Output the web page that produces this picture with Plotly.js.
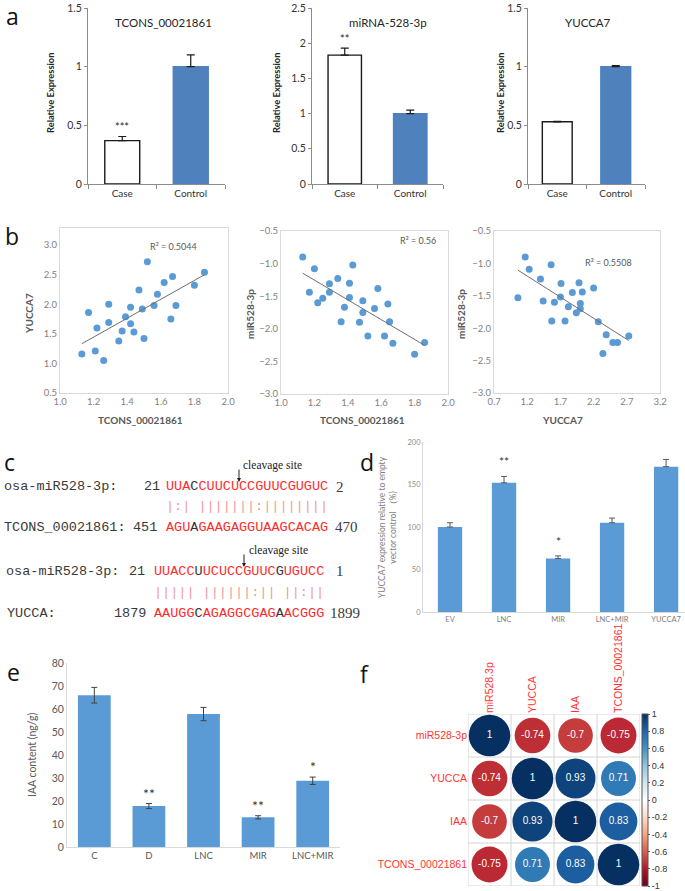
<!DOCTYPE html>
<html>
<head>
<meta charset="utf-8">
<script src="https://cdn.plot.ly/plotly-3.0.1.min.js"></script>
<style>
  html, body { margin: 0; padding: 0; background: #fff; }
  #fig { width: 685px; height: 891px; }
</style>
</head>
<body>
<div id="fig"></div>
<script>
// ---- panel a : relative expression ----
const exprCats = ['Case', 'Control'];
const exprTitles = ['TCONS_00021861', 'miRNA-528-3p', 'YUCCA7'];
const tconsExpr = [0.37, 1.0];
const tconsErr = [0.035, 0.1];
const mirExpr = [1.83, 1.0];
const mirErr = [0.1, 0.05];
const yuccaExpr = [0.53, 1.0];
const yuccaErr = [0.005, 0.01];
const exprStars = [['***', ''], ['**', ''], ['', '']];

// ---- panel b : correlations ----
const tconsB1 = [1.13, 1.17, 1.21, 1.22, 1.26, 1.29, 1.29, 1.35, 1.37, 1.39, 1.42, 1.42, 1.44, 1.47, 1.49, 1.50, 1.52, 1.56, 1.58, 1.62, 1.66, 1.67, 1.69, 1.80, 1.86];
const yuccaB1 = [1.16, 1.86, 1.21, 1.60, 1.05, 2.00, 1.69, 1.38, 1.55, 1.79, 1.95, 1.67, 1.53, 2.24, 1.92, 1.42, 2.72, 1.98, 2.17, 2.37, 1.75, 2.47, 1.98, 2.32, 2.54];
const tconsB2 = [1.13, 1.20, 1.17, 1.22, 1.25, 1.29, 1.29, 1.34, 1.36, 1.38, 1.41, 1.41, 1.43, 1.47, 1.49, 1.49, 1.52, 1.56, 1.58, 1.62, 1.64, 1.65, 1.67, 1.80, 1.86];
const mirB2 = [-0.90, -1.08, -1.44, -1.60, -1.53, -1.31, -1.44, -1.23, -1.89, -1.67, -1.30, -1.52, -1.02, -1.90, -1.75, -1.57, -2.11, -1.69, -1.38, -2.11, -1.62, -1.89, -2.22, -2.39, -2.21];
const yuccaB3 = [1.06, 1.17, 1.23, 1.40, 1.44, 1.56, 1.57, 1.61, 1.71, 1.70, 1.77, 1.82, 1.88, 1.94, 1.98, 2.00, 2.00, 2.03, 2.20, 2.27, 2.39, 2.49, 2.56, 2.73, 2.34];
const mirB3 = [-1.53, -0.90, -1.09, -1.24, -1.58, -1.02, -1.89, -1.60, -1.31, -1.52, -1.89, -1.67, -1.45, -1.76, -1.30, -1.62, -1.70, -1.44, -1.38, -1.90, -2.10, -2.22, -2.22, -2.12, -2.39];
const rSquared = ['R² = 0.5044', 'R² = 0.56', 'R² = 0.5508'];

// ---- panel c : target sites ----
const mirSeq1 = 'UUACCUUCUCCGUUCGUGUC';
const tconsSeq = 'AGUAGAAGAGGUAAGCACAG';
const pairs1 = '|:| |||||||:||||||||';
const mismatch1 = [3];
const mirSeq2 = 'UUACCUUCUCCGUUCGUGUCC';
const yuccaSeq = 'AAUGGCAGAGGCGAGAACGGG';
const pairs2 = '||||| ||||||:|| ||:||';
const mismatch2 = [5, 15];

// ---- panel d : YUCCA7 expression ----
const dCats = ['EV', 'LNC', 'MIR', 'LNC+MIR', 'YUCCA7'];
const dVals = [100, 152, 63, 105, 171];
const dErr = [5, 7.5, 3, 5.5, 8.5];
const dStars = ['', '**', '*', '', ''];

// ---- panel e : IAA content ----
const eCats = ['C', 'D', 'LNC', 'MIR', 'LNC+MIR'];
const eVals = [66, 17.8, 57.8, 12.9, 28.8];
const eErr = [3.4, 1.1, 2.9, 0.7, 1.6];
const eStars = ['', '**', '', '**', '*'];

// ---- panel f : correlation matrix ----
const corrRows = ['miR528-3p', 'YUCCA', 'IAA', 'TCONS_00021861'];
const corrCols = ['miR528.3p', 'YUCCA', 'IAA', 'TCONS_00021861'];
const corrMatrix = [
  [1, -0.74, -0.7, -0.75],
  [-0.74, 1, 0.93, 0.71],
  [-0.7, 0.93, 1, 0.83],
  [-0.75, 0.71, 0.83, 1]
];

// ------------------------------------------------------------
const W = 685, H = 891;
const dx = (a, b) => [a / W, b / W];
const dy = (top, bottom) => [1 - bottom / H, 1 - top / H];
const BLUE = '#5b9bd5';
const FONT = 'Lato, "Open Sans", sans-serif';
const SANS = '"Liberation Sans", Arial, sans-serif';

const traces = [];
const ann = [];
const shapes = [];

function label(x, y, text, opt) {
  ann.push(Object.assign({
    xref: 'paper', yref: 'paper', x: x / W, y: 1 - y / H, text: text,
    showarrow: false, xanchor: 'center', yanchor: 'middle'
  }, opt || {}));
}

const layout = {
  width: W, height: H, margin: {l: 0, r: 0, t: 0, b: 0},
  paper_bgcolor: '#fff', plot_bgcolor: 'rgba(0,0,0,0)',
  showlegend: false, font: {family: FONT, color: '#333'}
};

// panel a
const exprVals = [tconsExpr, mirExpr, yuccaExpr];
const exprErrs = [tconsErr, mirErr, yuccaErr];
const aBox = [[88, 225, 1.5], [312, 443, 2.5], [528, 645, 1.5]];
const aTitleX = [163, 388, 588];
const aYLabX = [51, 277, 501];

for (let k = 0; k < 3; k++) {
  const n = k + 1;
  const xs = n === 1 ? 'x' : 'x' + n, ys = n === 1 ? 'y' : 'y' + n;
  traces.push({
    type: 'bar', x: exprCats, y: exprVals[k], xaxis: xs, yaxis: ys, width: 0.51,
    marker: {color: ['#ffffff', '#4f81bd'], line: {color: ['#1a1a1a', '#4f81bd'], width: 1.4}},
    error_y: {type: 'data', symmetric: false, array: exprErrs[k], arrayminus: [0, 0],
              color: '#1a1a1a', thickness: 1.2, width: 4}
  });
  layout['xaxis' + (n === 1 ? '' : n)] = {
    domain: dx(aBox[k][0], aBox[k][1]), anchor: ys, type: 'category', range: [-0.5, 1.5],
    showline: true, linecolor: '#8c8c8c', ticks: 'outside', tickson: 'boundaries',
    ticklen: 4, tickcolor: '#8c8c8c', tickfont: {size: 10, color: '#333'}
  };
  layout['yaxis' + (n === 1 ? '' : n)] = {
    domain: dy(8, 184), anchor: xs, range: [0, aBox[k][2]], dtick: 0.5,
    showline: true, linecolor: '#8c8c8c', ticks: 'outside', ticklen: 3, tickcolor: '#8c8c8c',
    showgrid: false, zeroline: false, ticklabeloverflow: 'allow',
    tickfont: {size: 10.5, color: '#333'}
  };
  label(aTitleX[k], 22, exprTitles[k], {font: {size: 11.5, color: '#262626'}});
  label(aYLabX[k], 93, '<b>Relative Expression</b>', {textangle: -90, font: {size: 9.3, color: '#262626'}});
  exprCats.forEach((c, i) => {
    if (exprStars[k][i]) {
      ann.push({xref: xs, yref: ys, x: c, y: exprVals[k][i] + exprErrs[k][i], text: exprStars[k][i],
                showarrow: false, yanchor: 'bottom', yshift: 1, font: {size: 11, color: '#262626'}});
    }
  });
}

// panel b
function fit(xs, ys) {
  const n = xs.length;
  const mx = xs.reduce((t, v) => t + v, 0) / n;
  const my = ys.reduce((t, v) => t + v, 0) / n;
  let sxy = 0, sxx = 0;
  for (let i = 0; i < n; i++) { sxy += (xs[i] - mx) * (ys[i] - my); sxx += (xs[i] - mx) ** 2; }
  const a = sxy / sxx, b = my - a * mx;
  const x1 = Math.min(...xs), x2 = Math.max(...xs);
  return {x: [x1, x2], y: [b + a * x1, b + a * x2]};
}
const bData = [[tconsB1, yuccaB1], [tconsB2, mirB2], [yuccaB3, mirB3]];
const bBox = [[60, 228, 228, 393], [281, 448, 231, 394], [494, 660, 231, 393]];
const bXRange = [[1.0, 2.0], [1.0, 2.0], [0.7, 3.2]];
const bXTick = [[1.0, 0.2], [1.0, 0.2], [0.7, 0.5]];
const bYRange = [[0.5, 3.29], [-3, -0.5], [-3, -0.5]];
const bYTick0 = [0.5, -3, -3];
const bXTitle = ['TCONS_00021861', 'TCONS_00021861', 'YUCCA7'];
const bYTitle = ['YUCCA7', 'miR528-3p', 'miR528-3p'];
const bXTitlePos = [140, 362, 562];
const bYTitlePos = [29, 250, 461];
const bR2Pos = [[173, 246], [418, 240], [608, 262]];
for (let k = 0; k < 3; k++) {
  const n = k + 4;
  const xs = 'x' + n, ys = 'y' + n;
  traces.push({type: 'scatter', mode: 'markers', x: bData[k][0], y: bData[k][1], xaxis: xs, yaxis: ys,
               marker: {color: BLUE, size: 7}});
  const line = fit(bData[k][0], bData[k][1]);
  traces.push({type: 'scatter', mode: 'lines', x: line.x, y: line.y, xaxis: xs, yaxis: ys,
               line: {color: '#6f6f6f', width: 1}});
  layout['xaxis' + n] = {
    domain: dx(bBox[k][0], bBox[k][1]), anchor: ys, range: bXRange[k],
    tick0: bXTick[k][0], dtick: bXTick[k][1], tickformat: '.1f',
    showline: true, mirror: true, linecolor: '#d9d9d9', showgrid: false, zeroline: false,
    tickfont: {size: 9.5, color: '#7f7f7f'}
  };
  layout['yaxis' + n] = {
    domain: dy(bBox[k][2], bBox[k][3]), anchor: xs, range: bYRange[k],
    tick0: bYTick0[k], dtick: 0.5, tickformat: '.1f',
    showline: true, mirror: true, linecolor: '#d9d9d9', showgrid: false, zeroline: false,
    tickfont: {size: 9.5, color: '#7f7f7f'}
  };
  label(bXTitlePos[k], 420, '<b>' + bXTitle[k] + '</b>', {font: {size: 10, color: '#595959'}});
  label(bYTitlePos[k], 314, '<b>' + bYTitle[k] + '</b>', {textangle: -90, font: {size: 10, color: '#595959'}});
  label(bR2Pos[k][0], bR2Pos[k][1], rSquared[k], {font: {size: 9, color: '#595959'}});
}

// panel c
const MONO = '"Liberation Mono", "DejaVu Sans Mono", monospace';
const SERIF = '"Liberation Serif", "DejaVu Serif", serif';
const RED = '#ff2b2b';
function colorSeq(seq, mis) {
  let s = '';
  for (let i = 0; i < seq.length; i++) {
    s += '<span style="color:' + (mis.includes(i) ? '#333' : RED) + '">' + seq[i] + '</span>';
  }
  return s;
}
const cFont = {family: MONO, size: 13.5, color: '#3a3a3a'};
const nFont = {family: SERIF, size: 15, color: '#3a3a3a'};
const left = {xanchor: 'left', font: cFont};
const pairFont = {xanchor: 'left', font: {family: MONO, size: 13.5, color: '#f29a9a'}};
label(2, 487, 'osa-miR528-3p:', left);
label(142, 487, '21', left);
label(164, 487, colorSeq(mirSeq1, mismatch1), left);
label(334, 487, '2', {xanchor: 'left', font: nFont});
label(164, 507, pairs1, pairFont);
label(2, 527, 'TCONS_00021861:', left);
label(131, 527, '451', left);
label(164, 527, colorSeq(tconsSeq, mismatch1), left);
label(333, 527, '470', {xanchor: 'left', font: nFont});
label(4, 571, 'osa-miR528-3p:', left);
label(127, 571, '21', left);
label(152, 571, colorSeq(mirSeq2, mismatch2), left);
label(334, 571, '1', {xanchor: 'left', font: nFont});
label(152, 592, pairs2, pairFont);
label(5, 613, 'YUCCA:', left);
label(112, 613, '1879', left);
label(152, 613, colorSeq(yuccaSeq, mismatch2), left);
label(328, 613, '1899', {xanchor: 'left', font: nFont});
const serif = {family: SERIF, size: 11.5, color: '#222'};
label(241, 466, 'cleavage site', {xanchor: 'left', font: serif});
label(247, 550, 'cleavage site', {xanchor: 'left', font: serif});
[[239, 482], [244, 567]].forEach(p => {
  ann.push({xref: 'paper', yref: 'paper', x: p[0] / W, y: 1 - p[1] / H, text: '',
            showarrow: true, ax: 0, ay: -14, arrowhead: 2, arrowsize: 0.8, arrowwidth: 1, arrowcolor: '#222'});
});

// panel d
traces.push({
  type: 'bar', x: dCats, y: dVals, xaxis: 'x7', yaxis: 'y7', width: 0.45, marker: {color: BLUE},
  error_y: {type: 'data', symmetric: false, array: dErr, arrayminus: dErr.map(() => 0),
            color: '#595959', thickness: 1, width: 3}
});
layout.xaxis7 = {domain: dx(423, 685), anchor: 'y7', type: 'category', range: [-0.5, 4.35],
                 showline: true, linecolor: '#d9d9d9', tickfont: {size: 7.5, color: '#7f7f7f'}};
layout.yaxis7 = {domain: dy(442, 612), anchor: 'x7', range: [0, 200], dtick: 50,
                 showline: true, linecolor: '#d9d9d9', showgrid: false, zeroline: false,
                 ticklabeloverflow: 'allow', tickfont: {size: 7.5, color: '#8c8c8c'}};
label(387, 527, 'YUCCA7 expression relative to empty<br>vector control （%)',
      {textangle: -90, font: {size: 8.5, color: '#7f7f7f'}});
dCats.forEach((c, i) => {
  if (dStars[i]) ann.push({xref: 'x7', yref: 'y7', x: c, y: dVals[i] + dErr[i], text: dStars[i],
                           showarrow: false, yanchor: 'bottom', yshift: 5, font: {size: 12, color: '#333'}});
});

// panel e
traces.push({
  type: 'bar', x: eCats, y: eVals, xaxis: 'x8', yaxis: 'y8', width: 0.6, marker: {color: BLUE},
  error_y: {type: 'data', array: eErr, color: '#404040', thickness: 1, width: 3}
});
layout.xaxis8 = {domain: dx(67, 340), anchor: 'y8', type: 'category', range: [-0.5, 4.5],
                 showline: true, linecolor: '#d9d9d9', tickfont: {size: 9.5, color: '#595959'}};
layout.yaxis8 = {domain: dy(663, 847), anchor: 'x8', range: [0, 80], dtick: 10,
                 showline: true, linecolor: '#d9d9d9', showgrid: false, zeroline: false,
                 ticklabeloverflow: 'allow', tickfont: {size: 10.5, color: '#595959'}};
label(32, 755, 'IAA content (ng/g)', {textangle: -90, font: {size: 10.5, color: '#595959'}});
eCats.forEach((c, i) => {
  if (eStars[i]) ann.push({xref: 'x8', yref: 'y8', x: c, y: eVals[i] + eErr[i], text: eStars[i],
                           showarrow: false, yanchor: 'bottom', yshift: 0, font: {size: 14, color: '#333'}});
});

// panel f
const corrScale = [
  [0, '#67001f'], [0.1, '#b2182b'], [0.2, '#d6604d'], [0.3, '#f4a582'], [0.4, '#fddbc7'],
  [0.5, '#ffffff'], [0.6, '#d1e5f0'], [0.7, '#92c5de'], [0.8, '#4393c3'], [0.9, '#2166ac'], [1, '#053061']
];
const fx = [], fy = [], fv = [], fs = [], ft = [];
corrMatrix.forEach((row, i) => row.forEach((v, j) => {
  fx.push(j + 1); fy.push(i + 1); fv.push(v);
  fs.push(41.5 * Math.sqrt(Math.abs(v))); ft.push(String(v));
}));
const cbTicks = [];
for (let t = -5; t <= 5; t++) cbTicks.push(t / 5);
traces.push({
  type: 'scatter', mode: 'markers+text', x: fx, y: fy, xaxis: 'x9', yaxis: 'y9',
  text: ft, textposition: 'middle center', textfont: {family: SANS, size: 10, color: '#fff'},
  marker: {size: fs, color: fv, cmin: -1, cmax: 1, colorscale: corrScale, opacity: 1, line: {width: 0},
           showscale: true,
           colorbar: {x: 642 / W, xanchor: 'left', y: 1 - 800 / H, yanchor: 'middle',
                      len: 172 / H, lenmode: 'fraction', thickness: 6, thicknessmode: 'pixels',
                      outlinewidth: 1, outlinecolor: '#555', xpad: 0, ypad: 0,
                      tickvals: cbTicks, ticktext: cbTicks.map(v => String(Math.round(v * 10) / 10)),
                      ticks: 'outside', ticklen: 2, tickcolor: '#555', ticklabeloverflow: 'allow',
                      tickfont: {family: SANS, size: 9, color: '#333'}}}
});
layout.xaxis9 = {domain: dx(468, 640), anchor: 'y9', side: 'top', range: [0.5, 4.5],
                 tickvals: [1, 2, 3, 4], ticktext: corrCols, tickangle: -90,
                 showgrid: false, zeroline: false, showline: false,
                 tickfont: {family: SANS, size: 10.5, color: '#ff3333'}};
layout.yaxis9 = {domain: dy(714, 886), anchor: 'x9', range: [4.5, 0.5],
                 tickvals: [1, 2, 3, 4], ticktext: corrRows,
                 showgrid: false, zeroline: false, showline: false,
                 tickfont: {family: SANS, size: 10.5, color: '#ff3333'}};
for (let k = 0; k <= 4; k++) {
  const g = 0.5 + k;
  shapes.push({type: 'line', xref: 'x9', yref: 'y9', x0: g, x1: g, y0: 0.5, y1: 4.5, line: {color: '#d4d4d4', width: 1}, layer: 'below'});
  shapes.push({type: 'line', xref: 'x9', yref: 'y9', x0: 0.5, x1: 4.5, y0: g, y1: g, line: {color: '#d4d4d4', width: 1}, layer: 'below'});
}

// panel letters
const letterFont = {family: '"Open Sans", "Liberation Sans", sans-serif', size: 23, color: '#111'};
[['a', 12, 16], ['b', 12, 236], ['c', 9, 462], ['d', 367, 462], ['e', 13, 672], ['f', 364, 674]]
  .forEach(l => label(l[1], l[2], l[0], {font: letterFont}));

layout.annotations = ann;
layout.shapes = shapes;

Plotly.newPlot('fig', traces, layout, {displayModeBar: false, staticPlot: true});
</script>
</body>
</html>
